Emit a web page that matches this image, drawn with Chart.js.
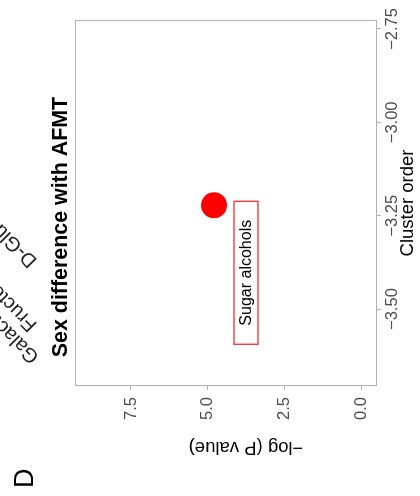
<!DOCTYPE html>
<html>
<head>
<meta charset="utf-8">
<script src="https://cdn.jsdelivr.net/npm/chart.js@4/dist/chart.umd.min.js"></script>
<style>
  html, body { margin: 0; padding: 0; background: #fff; overflow: hidden; width: 420px; height: 496px; }
  /* the panel is laid out landscape and turned a quarter turn counter-clockwise */
  #panel { position: absolute; left: 0; top: 0; width: 496px; height: 420px;
           transform-origin: 0 0; transform: translateY(496px) rotate(-90deg); }
  canvas { display: block; }
</style>
</head>
<body>
<div id="panel"><canvas id="c" width="496" height="420"></canvas></div>
<script>
// ---- data ----
const metabolites   = ['Sugar alcohols'];
const clusterOrder  = [-3.222];
const negLogP       = [4.80];
const clusterTicks  = [-3.5, -3.25, -3.0, -2.75];
const pTicks        = [0, 2.5, 5.0, 7.5];
// tails of the rotated category labels of the panel above
const upperLabels   = ['Galactose metabolism', 'Fructose and mannose metabolism', 'D-Glutamine and D-glutamate metabolism'];

const FONT = "'Liberation Sans', Arial, Helvetica, sans-serif";
const TICK_GREY = '#4d4d4d';
const FRAME_GREY = '#b3b3b3';

const fmt = (v, d) => (v < 0 ? '\u2212' : '') + Math.abs(v).toFixed(d);

// panel frame around the plotting area
const framePlugin = {
  id: 'frame',
  beforeDatasetsDraw(chart) {
    const { ctx, chartArea: a } = chart;
    ctx.save();
    ctx.strokeStyle = FRAME_GREY;
    ctx.lineWidth = 1.1;
    ctx.strokeRect(a.left + 0.5, a.top + 0.5, a.right - a.left - 1, a.bottom - a.top - 1);
    ctx.restore();
  }
};

// boxed point label, title, y-axis title and panel letter
const decorPlugin = {
  id: 'decor',
  afterDatasetsDraw(chart) {
    const { ctx } = chart;
    const meta = chart.getDatasetMeta(0);
    ctx.save();
    meta.data.forEach((pt, i) => {
      const cx = pt.x - 67.5, cy = pt.y + 32;
      const w = 143, h = 24;
      ctx.fillStyle = '#ffffff';
      ctx.fillRect(cx - w / 2, cy - h / 2, w, h);
      ctx.strokeStyle = '#f01e1e';
      ctx.lineWidth = 1.2;
      ctx.strokeRect(cx - w / 2, cy - h / 2, w, h);
      ctx.fillStyle = '#000';
      ctx.font = '16px ' + FONT;
      ctx.textAlign = 'center';
      ctx.textBaseline = 'middle';
      ctx.fillText(metabolites[i], cx, cy + 1);
    });
    ctx.restore();
  },
  afterDraw(chart) {
    const { ctx } = chart;
    ctx.save();
    // title
    ctx.fillStyle = '#000';
    ctx.font = 'bold 21.4px ' + FONT;
    ctx.textAlign = 'center';
    ctx.textBaseline = 'alphabetic';
    ctx.fillText('Sex difference with AFMT', 269, 67);

    // y-axis title
    ctx.save();
    ctx.translate(49, 246);
    ctx.rotate(-Math.PI / 2);
    ctx.font = '18.5px ' + FONT;
    ctx.textAlign = 'center';
    ctx.textBaseline = 'middle';
    ctx.fillText('\u2212log (P value)', 0, 0);
    ctx.restore();

    // panel letter
    ctx.font = '27px ' + FONT;
    ctx.textAlign = 'left';
    ctx.textBaseline = 'alphabetic';
    ctx.fillText('D', 8, 33);

    // labels hanging from the panel above
    const starts = [[140, 40], [172, 38], [236, 38]];
    ctx.fillStyle = '#222';
    ctx.font = '20px ' + FONT;
    upperLabels.forEach((t, i) => {
      ctx.save();
      ctx.translate(starts[i][0], starts[i][1]);
      ctx.rotate(-Math.PI / 4);
      ctx.fillText(t, 0, 0);
      ctx.restore();
    });
    ctx.restore();
  }
};

new Chart(document.getElementById('c').getContext('2d'), {
  type: 'scatter',
  data: {
    datasets: [{
      data: clusterOrder.map((x, i) => ({ x, y: negLogP[i] })),
      backgroundColor: '#ff0000',
      borderWidth: 0,
      pointRadius: 13,
      pointHoverRadius: 13
    }]
  },
  options: {
    responsive: false,
    animation: false,
    devicePixelRatio: 1,
    events: [],
    layout: { padding: { left: 0, right: 20, top: 75, bottom: 0 } },
    plugins: { legend: { display: false }, title: { display: false }, tooltip: { enabled: false } },
    scales: {
      x: {
        type: 'linear',
        min: -3.706, max: -2.726,
        afterBuildTicks: s => { s.ticks = clusterTicks.map(v => ({ value: v })); },
        afterFit: s => { s.height = 43; },
        grid: { display: true, drawOnChartArea: false, drawTicks: true, tickLength: 4, color: FRAME_GREY, lineWidth: 1 },
        border: { display: false },
        ticks: { color: TICK_GREY, font: { family: FONT, size: 16.5 }, padding: 2, maxRotation: 0, autoSkip: false,
                 callback: v => fmt(v, 2) },
        title: { display: true, text: 'Cluster order', color: '#000', font: { family: FONT, size: 18.5 },
                 padding: { top: 0, bottom: 1 } }
      },
      y: {
        type: 'linear',
        min: -0.5, max: 9.32,
        afterBuildTicks: s => { s.ticks = pTicks.map(v => ({ value: v })); },
        afterFit: s => { s.width = 110; },
        grid: { display: true, drawOnChartArea: false, drawTicks: true, tickLength: 4, color: FRAME_GREY, lineWidth: 1 },
        border: { display: false },
        ticks: { color: TICK_GREY, font: { family: FONT, size: 16.5 }, padding: 7, autoSkip: false,
                 callback: v => fmt(v, 1) }
      }
    }
  },
  plugins: [framePlugin, decorPlugin]
});
</script>
</body>
</html>
